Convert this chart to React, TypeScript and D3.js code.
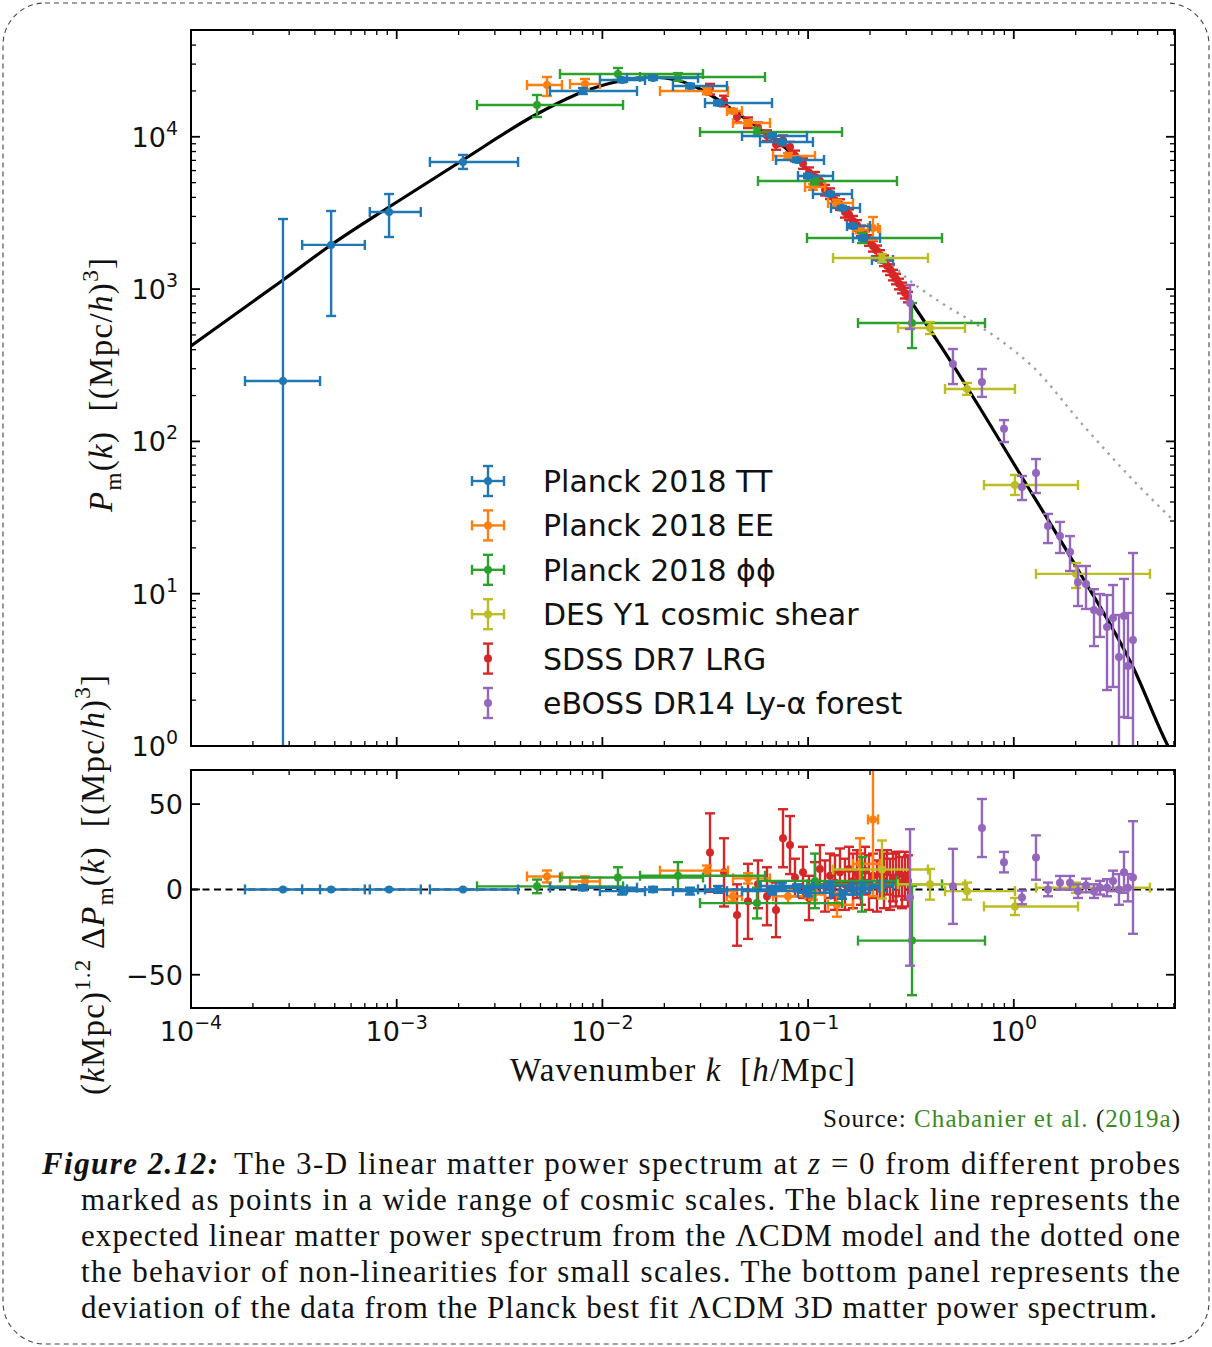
import React from 'react';
import * as d3 from 'd3';

// ---------------- data ----------------
// linear LCDM model curve
const modelK = [1.0e-4, 2.803e-4, 4.792e-4, 9.176e-4, 2.101e-3, 4.808e-3, 7.782e-3, 0.01218, 0.01703, 0.02384, 0.02982, 0.03729, 0.04665, 0.05837, 0.08166, 0.1142, 0.1598, 0.2236, 0.3129, 0.4378, 0.6124, 1.072, 2.028, 3.797, 5.618, 6.43];
const modelP = [423, 1148, 1948, 3460, 7042, 14110, 19390, 23250, 24700, 23250, 20600, 17180, 13900, 11250, 7947, 4974, 2974, 1675, 848, 429.5, 211, 61.1, 14.75, 3.3, 1.0, 0.717];
// non-linear (dotted) curve
const nonlinK = [0.1598, 0.1788, 0.2236, 0.2798, 0.4378, 0.6333, 0.8567, 1.24, 2.17, 3.797, 6.077];
const nonlinP = [2974, 2443, 1780, 1295, 823, 608, 463, 308, 128, 55.8, 29.6];

// Planck 2018 TT
const ttK = [2.8e-4, 4.8e-4, 9.18e-4, 2.1e-3, 8.04e-3, 0.01246, 0.01762, 0.02666, 0.03648, 0.06675, 0.07464, 0.08834, 0.0999, 0.1278, 0.1462, 0.1653, 0.1849, 0.2287];
const ttKLo = [1.83e-4, 3.47e-4, 7.4e-4, 1.45e-3, 5.56e-3, 9.73e-3, 0.01317, 0.02203, 0.03154, 0.04772, 0.05837, 0.06982, 0.08932, 0.1056, 0.1292, 0.1546, 0.1653, 0.2044];
const ttKHi = [4.24e-4, 7.0e-4, 1.31e-3, 3.89e-3, 0.01473, 0.01611, 0.02916, 0.04033, 0.06675, 0.09879, 0.1056, 0.1195, 0.1322, 0.1634, 0.1788, 0.1999, 0.2236, 0.2587];
const ttP = [249, 1950, 3206, 6835, 19990, 23600, 24330, 21560, 16670, 10120, 9246, 7042, 5528, 4211, 3408, 2596, 2165, 1553];
const ttPLo = [0.001, 666, 2198, 6150, 19100, 22800, 23600, 20800, 16100, 9800, 8950, 6820, 5350, 4080, 3300, 2510, 2090, 1500];
const ttPHi = [2885, 3257, 4210, 7600, 20900, 24400, 25080, 22300, 17250, 10450, 9550, 7270, 5710, 4350, 3520, 2680, 2240, 1610];
const ttDev = [0, 0, 0, 0, 1, -1, 0, -1, 0, -1, 2, 1, -2, 2, -3, 0, 1, 2];
const ttDevErr = [0.3, 0.3, 0.3, 0.3, 1.5, 2, 1.5, 2, 2, 2, 2, 2, 2, 2.5, 2.5, 3, 3, 3];

// Planck 2018 EE
const eeK = [5.38e-3, 8.23e-3, 0.03225, 0.04313, 0.05102, 0.07985, 0.1056, 0.1382, 0.1788, 0.2067];
const eeKLo = [4.3e-3, 6.96e-3, 0.01905, 0.04033, 0.04313, 0.06752, 0.0966, 0.125, 0.1653, 0.1955];
const eeKHi = [6.36e-3, 9.73e-3, 0.04079, 0.04772, 0.06528, 0.108, 0.1209, 0.1653, 0.2236, 0.2187];
const eeP = [21890, 22220, 19990, 14770, 12320, 7478, 4682, 3676, 2443, 2518];
const eePLo = [18530, 20600, 19000, 14300, 11800, 7150, 4480, 3500, 2330, 2101];
const eePHi = [24700, 23960, 21000, 15250, 12850, 7820, 4890, 3860, 2560, 2974];
const eeDev = [7.6, 4.7, 11, -4, 6.5, -4, -3, -9, 15, 41];
const eeDevErr = [3.5, 3, 3, 3, 3, 4, 3, 7, 15, 45];

// Planck 2018 phi-phi
const ppK = [4.81e-3, 0.0119, 0.0233, 0.05644, 0.108, 0.1828, 0.32];
const ppKLo = [2.457e-3, 6.22e-3, 0.01524, 0.02982, 0.05707, 0.09879, 0.1748];
const ppKHi = [0.0126, 0.03084, 0.06172, 0.1462, 0.2705, 0.4477, 0.7244];
const ppP = [16180, 25840, 24700, 10750, 5127, 2165, 599];
const ppPLo = [13490, 23600, 23300, 10120, 4870, 2008, 410];
const ppPHi = [18810, 28300, 26200, 11420, 5400, 2336, 810];
const ppDev = [1.8, 7, 8, -8, 5, 3, -30];
const ppDevErr = [4, 6, 8, 9, 16, 16, 32];

// DES Y1 cosmic shear
const desK = [0.2287, 0.3914, 0.5922, 1.013, 2.006];
const desKLo = [0.1322, 0.2736, 0.463, 0.7163, 1.282];
const desKHi = [0.3827, 0.5791, 1.013, 2.052, 4.592];
const desP = [1600, 555, 221, 51.7, 13.5];
const desPLo = [1507, 507, 202, 44.5, 10.9];
const desPHi = [1700, 608, 242, 60.2, 15.9];
const desDev = [11.7, 3, -1, -10, 1];
const desDevErr = [17, 9, 5, 5, 3];

// SDSS DR7 LRG
const lrgK = [0.03335, 0.03902, 0.04512, 0.05102, 0.05707, 0.06313, 0.06982, 0.07551, 0.08166, 0.08635, 0.09445, 0.101, 0.108, 0.1142, 0.1209, 0.1278, 0.1351, 0.1429, 0.1511, 0.1581, 0.1653, 0.1729, 0.1808, 0.1891, 0.1977, 0.2067, 0.2163, 0.2236, 0.2339, 0.2418, 0.2501, 0.2587, 0.2675, 0.2766, 0.2861, 0.2959, 0.3059];
const lrgP = [20600, 17230, 13510, 12400, 11490, 10210, 8930, 9441, 8570, 7514, 6688, 5821, 5438, 5127, 4474, 4243, 3818, 3599, 3203, 3085, 2796, 2628, 2418, 2218, 2092, 1916, 1787, 1667, 1539, 1425, 1345, 1240, 1168, 1083, 1020, 944, 889];
const lrgPErr = [1650, 1380, 1080, 990, 920, 820, 710, 760, 690, 600, 530, 470, 435, 410, 360, 340, 305, 290, 256, 247, 224, 210, 193, 177, 167, 153, 143, 133, 123, 114, 108, 99, 93, 87, 82, 76, 71];
const lrgDev = [21.6, 10, -15, -7, 3, -4, -12, 30, 26, 7, 10, -5, 4, 12, 2, 8, 4, 10, 3, 12, 5, 9, 6, 11, 4, 8, 2, 9, 5, 10, 3, 7, 6, 9, 4, 8, 5];
const lrgDevErr = [23, 20, 18, 22, 14, 17, 16, 17, 17, 11, 15, 13, 12, 14, 15, 13, 16, 14, 15, 13, 16, 14, 15, 14, 16, 13, 15, 14, 16, 13, 15, 14, 16, 13, 15, 14, 15];

// eBOSS DR14 Ly-alpha forest
const lyaK = [0.313, 0.506, 0.7, 0.896, 1.096, 1.282, 1.466, 1.677, 1.876, 2.052, 2.244, 2.454, 2.624, 2.839, 3.036, 3.246, 3.434, 3.591, 3.797];
const lyaP = [811, 322, 245, 121, 50.2, 62.0, 27.8, 23.9, 18.8, 11.9, 11.6, 7.82, 7.58, 6.04, 6.92, 3.84, 7.14, 3.35, 4.97];
const lyaPLo = [547, 238, 196, 99, 41.2, 45.8, 21.5, 18.5, 14.1, 8.3, 7.94, 4.53, 5.2, 2.33, 2.44, 0.8, 1.55, 1.53, 0.5];
const lyaPHi = [1064, 404, 299, 138, 59.3, 76.6, 33.4, 29.6, 23.9, 15.2, 15.2, 10.7, 9.95, 9.8, 11.4, 7.25, 12.5, 7.47, 18.5];
const lyaDev = [-4.7, 1.8, 36, 16, -4.7, 18.7, 0, 3.9, 3.9, -1, 2.3, -1, 1, 1, 5, 0, 10, 1, 7];
const lyaDevErr = [40, 22, 17, 6, 4, 13, 4, 4, 4, 4, 4, 4, 4, 5, 6, 9, 12, 8, 33];

const legendLabels = ['Planck 2018 TT', 'Planck 2018 EE', 'Planck 2018 \u03d5\u03d5', 'DES Y1 cosmic shear', 'SDSS DR7 LRG', 'eBOSS DR14 Ly-\u03b1 forest'];
const legendColors = ['#1f77b4', '#ff7f0e', '#2ca02c', '#bcbd22', '#d62728', '#9467bd'];
const legendHasXErr = [true, true, true, true, false, false];

const xTickExps = [-4, -3, -2, -1, 0];
const yTickExps = [0, 1, 2, 3, 4];
const devTicks = [-50, 0, 50];

const captionLines = [
  'marked as points in a wide range of cosmic scales.  The black line represents the',
  'expected linear matter power spectrum from the \u039bCDM model and the dotted one',
  'the behavior of non-linearities for small scales.  The bottom panel represents the',
  'deviation of the data from the Planck best fit \u039bCDM 3D matter power spectrum.',
];

// ---------------- layout ----------------
const X0 = 191, X1 = 1175;
const TY0 = 30, TY1 = 746;
const BY0 = 770, BY1 = 1008;
const SANS = 'DejaVu Sans, sans-serif';
const SERIF = 'Liberation Serif, serif';

type Seg = { t: string; it?: boolean; sub?: boolean; sup?: boolean };

function MathText(props: any) {
  const { segs, fs, ...rest } = props;
  let cur = 0;
  return (
    <text {...rest} fontSize={fs}>
      {segs.map((s: Seg, i: number) => {
        const target = s.sub ? 0.26 * fs : s.sup ? -0.42 * fs : 0;
        const dy = target - cur;
        cur = target;
        return (
          <tspan key={i} dy={dy} fontStyle={s.it ? 'italic' : undefined} fontSize={s.sub || s.sup ? fs * 0.7 : undefined}>
            {s.t}
          </tspan>
        );
      })}
    </text>
  );
}

type Series = {
  color: string;
  k: number[];
  kLo?: number[];
  kHi?: number[];
  P: number[];
  PLo: number[];
  PHi: number[];
  dev: number[];
  devErr: number[];
};

export default function App() {
  const x = d3.scaleLog().domain([1e-4, 6.077]).range([X0, X1]);
  const yT = d3.scaleLog().domain([1, 50250]).range([TY1, TY0]);
  const yB = d3.scaleLinear().domain([-69.5, 70]).range([BY1, BY0]);

  const series: Series[] = [
    { color: '#d62728', k: lrgK, P: lrgP, PLo: lrgP.map((p, i) => p - lrgPErr[i]), PHi: lrgP.map((p, i) => p + lrgPErr[i]), dev: lrgDev, devErr: lrgDevErr },
    { color: '#ff7f0e', k: eeK, kLo: eeKLo, kHi: eeKHi, P: eeP, PLo: eePLo, PHi: eePHi, dev: eeDev, devErr: eeDevErr },
    { color: '#2ca02c', k: ppK, kLo: ppKLo, kHi: ppKHi, P: ppP, PLo: ppPLo, PHi: ppPHi, dev: ppDev, devErr: ppDevErr },
    { color: '#1f77b4', k: ttK, kLo: ttKLo, kHi: ttKHi, P: ttP, PLo: ttPLo, PHi: ttPHi, dev: ttDev, devErr: ttDevErr },
    { color: '#bcbd22', k: desK, kLo: desKLo, kHi: desKHi, P: desP, PLo: desPLo, PHi: desPHi, dev: desDev, devErr: desDevErr },
    { color: '#9467bd', k: lyaK, P: lyaP, PLo: lyaPLo, PHi: lyaPHi, dev: lyaDev, devErr: lyaDevErr },
  ];

  const CAP = 5;
  const LW = 2.4;
  const R = 4;

  const mark = (key: string, cx: number, cy: number, xl: number | null, xr: number | null, yt: number, yb: number, color: string) => (
    <g key={key} stroke={color} strokeWidth={LW} fill={color}>
      {xl !== null && xr !== null && (
        <>
          <line x1={xl} x2={xr} y1={cy} y2={cy} />
          <line x1={xl} x2={xl} y1={cy - CAP} y2={cy + CAP} />
          <line x1={xr} x2={xr} y1={cy - CAP} y2={cy + CAP} />
        </>
      )}
      <line x1={cx} x2={cx} y1={yt} y2={yb} />
      <line x1={cx - CAP} x2={cx + CAP} y1={yt} y2={yt} />
      <line x1={cx - CAP} x2={cx + CAP} y1={yb} y2={yb} />
      <circle cx={cx} cy={cy} r={R} stroke="none" />
    </g>
  );

  const lineGen = d3
    .line<number>()
    .x((_, i) => x(modelK[i]))
    .y((d) => yT(d))
    .curve(d3.curveMonotoneX);
  const nlGen = d3
    .line<number>()
    .x((_, i) => x(nonlinK[i]))
    .y((d) => yT(d))
    .curve(d3.curveMonotoneX);

  // ticks
  const xMajor = xTickExps.map((e) => Math.pow(10, e));
  const xMinor: number[] = [];
  for (let e = -4; e <= 0; e++) for (let m = 2; m <= 9; m++) { const v = m * Math.pow(10, e); if (v <= 6.077) xMinor.push(v); }
  const yMajor = yTickExps.map((e) => Math.pow(10, e));
  const yMinor: number[] = [];
  for (let e = 0; e <= 4; e++) for (let m = 2; m <= 9; m++) { const v = m * Math.pow(10, e); if (v <= 50250) yMinor.push(v); }

  const MAJ = 9, MIN = 5;
  const xTicks = (ya: number, yb: number, pre: string) => (
    <g stroke="#000">
      {xMajor.map((v, i) => (
        <g key={pre + 'M' + i} strokeWidth={1.8}>
          <line x1={x(v)} x2={x(v)} y1={yb} y2={yb - MAJ} />
          <line x1={x(v)} x2={x(v)} y1={ya} y2={ya + MAJ} />
        </g>
      ))}
      {xMinor.map((v, i) => (
        <g key={pre + 'm' + i} strokeWidth={1.3}>
          <line x1={x(v)} x2={x(v)} y1={yb} y2={yb - MIN} />
          <line x1={x(v)} x2={x(v)} y1={ya} y2={ya + MIN} />
        </g>
      ))}
    </g>
  );

  const legendY0 = 481, legendDY = 44.4, legendX = 488;

  return (
    <svg width={1212} height={1347} style={{ position: 'absolute', left: 0, top: 0, background: '#fff' }} fontFamily={SANS}>
      <defs>
        <clipPath id="clipTop"><rect x={X0} y={TY0} width={X1 - X0} height={TY1 - TY0} /></clipPath>
        <clipPath id="clipBot"><rect x={X0} y={BY0} width={X1 - X0} height={BY1 - BY0} /></clipPath>
      </defs>
      <rect x={0} y={0} width={1212} height={1347} fill="#fff" />
      {/* dashed rounded frame */}
      <rect x={3} y={3} width={1206} height={1341} rx={42} ry={42} fill="none" stroke="#444" strokeWidth={1.1} strokeDasharray="5 4" />

      {/* ---------- top panel ---------- */}
      <g clipPath="url(#clipTop)">
        <path d={nlGen(nonlinP) || ''} fill="none" stroke="#a0a0a0" strokeWidth={2.4} strokeDasharray="2.4 5.6" />
        <path d={lineGen(modelP) || ''} fill="none" stroke="#000" strokeWidth={3.2} />
        {series.map((s, si) =>
          s.k.map((k, i) =>
            mark(
              `t${si}-${i}`,
              x(k),
              yT(s.P[i]),
              s.kLo ? x(s.kLo[i]) : null,
              s.kHi ? x(s.kHi[i]) : null,
              yT(s.PHi[i]),
              yT(Math.max(s.PLo[i], 1e-3)),
              s.color
            )
          )
        )}
      </g>
      {/* legend */}
      {legendLabels.map((lab, i) => {
        const cy = legendY0 + i * legendDY;
        const c = legendColors[i];
        return (
          <g key={'lg' + i}>
            <g stroke={c} strokeWidth={LW} fill={c}>
              {legendHasXErr[i] && (
                <>
                  <line x1={legendX - 16} x2={legendX + 16} y1={cy} y2={cy} />
                  <line x1={legendX - 16} x2={legendX - 16} y1={cy - CAP} y2={cy + CAP} />
                  <line x1={legendX + 16} x2={legendX + 16} y1={cy - CAP} y2={cy + CAP} />
                </>
              )}
              <line x1={legendX} x2={legendX} y1={cy - 15} y2={cy + 15} />
              <line x1={legendX - CAP} x2={legendX + CAP} y1={cy - 15} y2={cy - 15} />
              <line x1={legendX - CAP} x2={legendX + CAP} y1={cy + 15} y2={cy + 15} />
              <circle cx={legendX} cy={cy} r={R} stroke="none" />
            </g>
            <text x={543} y={cy + 11} fontSize={30} fill="#111">{lab}</text>
          </g>
        );
      })}
      {/* top axes frame and ticks */}
      {xTicks(TY0, TY1, 'tx')}
      <g stroke="#000">
        {yMajor.map((v, i) => (
          <g key={'ym' + i} strokeWidth={1.8}>
            <line x1={X0} x2={X0 + MAJ} y1={yT(v)} y2={yT(v)} />
            <line x1={X1} x2={X1 - MAJ} y1={yT(v)} y2={yT(v)} />
          </g>
        ))}
        {yMinor.map((v, i) => (
          <g key={'yn' + i} strokeWidth={1.3}>
            <line x1={X0} x2={X0 + MIN} y1={yT(v)} y2={yT(v)} />
            <line x1={X1} x2={X1 - MIN} y1={yT(v)} y2={yT(v)} />
          </g>
        ))}
      </g>
      <rect x={X0} y={TY0} width={X1 - X0} height={TY1 - TY0} fill="none" stroke="#000" strokeWidth={2} />
      {yTickExps.map((e, i) => (
        <text key={'yl' + i} x={178} y={yT(Math.pow(10, e)) + 10} textAnchor="end" fontSize={27} fill="#111">
          10<tspan dy={-12} fontSize={19}>{e}</tspan>
        </text>
      ))}

      {/* ---------- bottom panel ---------- */}
      <g clipPath="url(#clipBot)">
        <line x1={X0} x2={X1} y1={yB(0)} y2={yB(0)} stroke="#000" strokeWidth={2} strokeDasharray="7 4.5" />
        {series.map((s, si) =>
          s.k.map((k, i) =>
            mark(
              `b${si}-${i}`,
              x(k),
              yB(s.dev[i]),
              s.kLo ? x(s.kLo[i]) : null,
              s.kHi ? x(s.kHi[i]) : null,
              yB(s.dev[i] + s.devErr[i]),
              yB(s.dev[i] - s.devErr[i]),
              s.color
            )
          )
        )}
      </g>
      {xTicks(BY0, BY1, 'bx')}
      <g stroke="#000" strokeWidth={1.8}>
        {devTicks.map((v, i) => (
          <g key={'dt' + i}>
            <line x1={X0} x2={X0 + MAJ} y1={yB(v)} y2={yB(v)} />
            <line x1={X1} x2={X1 - MAJ} y1={yB(v)} y2={yB(v)} />
          </g>
        ))}
      </g>
      <rect x={X0} y={BY0} width={X1 - X0} height={BY1 - BY0} fill="none" stroke="#000" strokeWidth={2} />
      {devTicks.map((v, i) => (
        <text key={'dl' + i} x={183} y={yB(v) + 10} textAnchor="end" fontSize={27} fill="#111">
          {v < 0 ? '\u2212' + Math.abs(v) : String(v)}
        </text>
      ))}
      {xTickExps.map((e, i) => (
        <text key={'xl' + i} x={x(Math.pow(10, e))} y={1041} textAnchor="middle" fontSize={27} fill="#111">
          10<tspan dy={-12} fontSize={19}>{e < 0 ? '\u2212' + Math.abs(e) : String(e)}</tspan>
        </text>
      ))}

      {/* axis labels */}
      <MathText
        segs={[{ t: 'Wavenumber\u00a0' }, { t: 'k', it: true }, { t: '\u00a0\u00a0[' }, { t: 'h', it: true }, { t: '/Mpc]' }]}
        fs={33}
        x={510}
        y={1081}
        textLength={345}
        fontFamily={SERIF}
        fill="#111"
      />
      <MathText
        segs={[{ t: 'P', it: true }, { t: 'm', sub: true }, { t: '(' }, { t: 'k', it: true }, { t: ')\u00a0\u00a0[(Mpc/' }, { t: 'h', it: true }, { t: ')' }, { t: '3', sup: true }, { t: ']' }]}
        fs={33}
        x={0}
        y={0}
        transform="translate(112,512) rotate(-90)"
        textLength={254}
        fontFamily={SERIF}
        fill="#111"
      />
      <MathText
        segs={[{ t: '(' }, { t: 'k', it: true }, { t: 'Mpc)' }, { t: '1.2', sup: true }, { t: '\u00a0\u0394' }, { t: 'P', it: true }, { t: 'm', sub: true }, { t: '(' }, { t: 'k', it: true }, { t: ')\u00a0\u00a0[(Mpc/' }, { t: 'h', it: true }, { t: ')' }, { t: '3', sup: true }, { t: ']' }]}
        fs={33}
        x={0}
        y={0}
        transform="translate(104,1095) rotate(-90)"
        textLength={420}
        fontFamily={SERIF}
        fill="#111"
      />

      {/* source + caption */}
      <text x={1180} y={1127} textAnchor="end" fontSize={25} fontFamily={SERIF} fill="#111" textLength={357}>
        Source: <tspan fill="#3a8a22">Chabanier et al.</tspan> (<tspan fill="#3a8a22">2019a</tspan>)
      </text>
      <text x={42} y={1174} fontSize={31} fontFamily={SERIF} fontStyle="italic" fontWeight="bold" fill="#111" textLength={176}>
        Figure 2.12:
      </text>
      <text x={234} y={1174} fontSize={31} fontFamily={SERIF} fill="#111" textLength={946}>
        The 3-D linear matter power spectrum at <tspan fontStyle="italic">z</tspan> = 0 from different probes
      </text>
      {captionLines.map((t, i) => (
        <text key={'cap' + i} x={81} y={1210 + i * 36} fontSize={31} fontFamily={SERIF} fill="#111" textLength={i === 3 ? 1076 : 1099}>
          {t}
        </text>
      ))}
    </svg>
  );
}
